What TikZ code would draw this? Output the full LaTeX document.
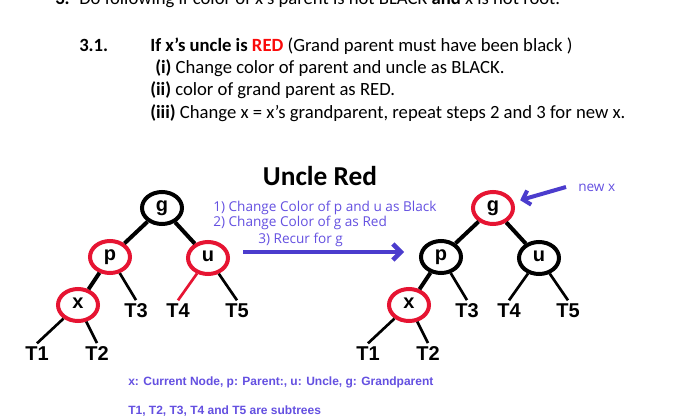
\documentclass[tikz,border=0pt]{standalone}
\usepackage{fontspec}
\setmainfont{Carlito}
\newfontfamily\arialfont{Liberation Sans}
\newfontfamily\notefont{Open Sans}
\usetikzlibrary{arrows.meta,shapes.geometric}
\definecolor{nodered}{RGB}{230,20,50}
\definecolor{redword}{RGB}{250,10,10}
\definecolor{notecol}{RGB}{100,80,225}
\definecolor{arrowcol}{RGB}{75,60,205}
\tikzset{
  rbnode/.style={ellipse,draw,line width=3pt,minimum width=30pt,minimum height=24pt,inner sep=0pt,
    text height=8pt,text depth=3pt,font=\arialfont\bfseries\fontsize{15}{15}\selectfont},
  subtree/.style={anchor=base,inner sep=2pt,font=\arialfont\bfseries\fontsize{15}{15}\selectfont},
  heavy/.style={line width=3pt},
  light/.style={line width=2pt},
  textline/.style={anchor=base west,inner sep=0pt,font=\fontsize{14}{16}\selectfont},
  notetext/.style={anchor=base west,inner sep=0pt,text=notecol,font=\notefont\fontsize{10.2}{12}\selectfont},
  legendtext/.style={anchor=base west,inner sep=0pt,text=notecol,font=\arialfont\bfseries\fontsize{9}{11}\selectfont},
}

\begin{document}
\begin{tikzpicture}[x=0.75pt,y=-0.75pt,>=Stealth]
\fill[white] (0,0) rectangle (684,417);
\useasboundingbox (0,0) rectangle (684,417);
% steps text
\node[textline] (s3) at (55,5) {\textbf{3.}};
\node[textline] (s3t) at (79,5) {Do following if color of x’s parent is not BLACK \textbf{and} x is not root.};
\node[textline] (s31) at (79,52) {\textbf{3.1.}};
\node[textline] (l0) at (150,52) {\textbf{If x’s uncle is \textcolor{redword}{RED}} (Grand parent must have been black )};
\node[textline] (l1) at (155,74) {\textbf{(i)} Change color of parent and uncle as BLACK.};
\node[textline] (l2) at (150,96) {\textbf{(ii)} color of grand parent as RED.};
\node[textline] (l3) at (150,118) {\textbf{(iii)} Change x = x’s grandparent, repeat steps 2 and 3 for new x.};
% title
\node[anchor=base,inner sep=0pt,font=\bfseries\fontsize{20.5}{22}\selectfont] (title) at (320,185) {Uncle Red};
% before (a) and after (b)
\foreach \t/\dx/\gc/\pc/\ec in {a/0/black/nodered/nodered, b/331/nodered/black/black}{
  \begin{scope}[xshift=\dx*0.75pt]
  \node[rbnode,draw=\gc] (g\t) at (162,208) {g};
  \node[rbnode,draw=\pc] (p\t) at (110,257) {p};
  \node[rbnode,draw=\pc] (u\t) at (208,258) {u};
  \node[rbnode,draw=nodered] (x\t) at (78,305) {x};
  \node[subtree] (T3\t) at (136,317) {T3};
  \node[subtree] (T4\t) at (178,317) {T4};
  \node[subtree] (T5\t) at (237,317) {T5};
  \node[subtree] (T1\t) at (37,360) {T1};
  \node[subtree] (T2\t) at (97,360) {T2};
  \draw[heavy] (g\t) -- (p\t);
  \draw[heavy] (g\t) -- (u\t);
  \draw[heavy] (p\t) -- (x\t);
  \draw[light] (p\t) -- (T3\t.north);
  \draw[light,\ec] (u\t) -- (T4\t.north);
  \draw[light] (u\t) -- (T5\t.north);
  \draw[light] (x\t) -- (T1\t.north);
  \draw[light] (x\t) -- (T2\t.north);
  \end{scope}
}
% recolouring steps
\node[notetext] (n1) at (213,211) {1) Change Color of p and u as Black};
\node[notetext] (n2) at (213,226) {2) Change Color of g as Red};
\node[notetext] (n3) at (258,243) {3) Recur for g};
\coordinate (arrS) at (243,252);
\coordinate (arrE) at (404,252);
\draw[arrowcol,line width=3.4pt,-{Straight Barb[length=6pt,width=12pt]}] (arrS) -- (arrE);
% new x
\node[notetext] (newx) at (578,191) {new x};
\coordinate (nxS) at (566,187);
\draw[arrowcol,line width=3pt,-{Straight Barb[length=5pt,width=11pt]},shorten >=5pt] (nxS) -- (gb);
% legend
\node[legendtext] (k1) at (128,385) {x: Current Node, p: Parent:, u: Uncle, g: Grandparent};
\node[legendtext] (k2) at (128,414) {T1, T2, T3, T4 and T5 are subtrees};
\end{tikzpicture}
\end{document}
